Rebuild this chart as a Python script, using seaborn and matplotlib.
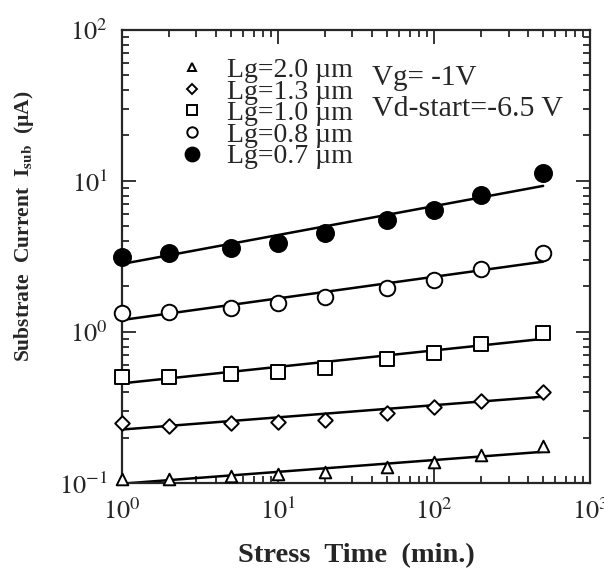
import numpy as np
import pandas as pd
import seaborn as sns
import matplotlib.pyplot as plt
from matplotlib.ticker import FuncFormatter, LogLocator, NullFormatter

# ---------------- data ----------------
time_min = [1, 2, 5, 10, 20, 50, 100, 200, 500]
lg_labels = ["Lg=2.0 µm", "Lg=1.3 µm", "Lg=1.0 µm", "Lg=0.8 µm", "Lg=0.7 µm"]

isub_lg20 = [0.106, 0.107, 0.111, 0.114, 0.118, 0.128, 0.137, 0.153, 0.176]
isub_lg13 = [0.251, 0.240, 0.248, 0.252, 0.261, 0.290, 0.317, 0.349, 0.398]
isub_lg10 = [0.506, 0.505, 0.525, 0.540, 0.580, 0.660, 0.730, 0.830, 0.980]
isub_lg08 = [1.33, 1.36, 1.45, 1.55, 1.71, 1.96, 2.21, 2.60, 3.32]
isub_lg07 = [3.14, 3.33, 3.60, 3.89, 4.53, 5.52, 6.43, 8.07, 11.3]

# fitted lines (end points at t=1 and t=500 min)
fit_time = [1, 500]
fit_lg20 = [0.099, 0.161]
fit_lg13 = [0.226, 0.373]
fit_lg10 = [0.457, 0.900]
fit_lg08 = [1.20, 2.92]
fit_lg07 = [2.82, 9.27]

series = [isub_lg20, isub_lg13, isub_lg10, isub_lg08, isub_lg07]
fits = [fit_lg20, fit_lg13, fit_lg10, fit_lg08, fit_lg07]
markers = ["^", "D", "s", "o", "o"]
msizes = [70, 55, 95, 125, 150]
leg_msizes = [6, 5.5, 7, 7.5, 10]
faces = ["white", "white", "white", "white", "black"]

# ---------------- plotting ----------------
sns.set_style("ticks")
plt.rcParams["font.family"] = ["Liberation Serif", "DejaVu Serif"]
plt.rcParams["mathtext.fontset"] = "stix"

fig = plt.figure(figsize=(6.04, 5.70), dpi=100)
ax = fig.add_axes([0.202, 0.1526, 0.775, 0.795])

handles = []
for lab, vals, fit, mk, ms, lms, fc in zip(lg_labels, series, fits, markers, msizes, leg_msizes, faces):
    fit_df = pd.DataFrame({"t": fit_time, "i": fit})
    sns.lineplot(data=fit_df, x="t", y="i", ax=ax, color="black", lw=1.8)
    df = pd.DataFrame({"t": time_min, "i": vals})
    sns.scatterplot(data=df, x="t", y="i", ax=ax, marker=mk, s=ms,
                    facecolor=fc, edgecolor="black", linewidth=1.4,
                    zorder=3, clip_on=False)
    handles.append(plt.Line2D([], [], ls="none", marker=mk, markersize=lms,
                              markerfacecolor=fc, markeredgecolor="black", markeredgewidth=1.4))

ax.set_xscale("log")
ax.set_yscale("log")
ax.set_xlim(1, 1000)
ax.set_ylim(0.1, 100)

fmt = FuncFormatter(lambda v, p: r"$10^{%d}$" % int(round(np.log10(v))))
ax.xaxis.set_major_formatter(fmt)
ax.yaxis.set_major_formatter(fmt)
ax.xaxis.set_minor_locator(LogLocator(subs=np.arange(2, 10)))
ax.yaxis.set_minor_locator(LogLocator(subs=np.arange(2, 10)))
ax.xaxis.set_minor_formatter(NullFormatter())
ax.yaxis.set_minor_formatter(NullFormatter())

ax.tick_params(which="both", direction="in", top=True, right=True, width=1.3, labelsize=19)
ax.tick_params(which="major", length=10)
ax.tick_params(which="minor", length=5)
ax.tick_params(axis="x", pad=11)
ax.tick_params(axis="y", pad=10)
for sp in ax.spines.values():
    sp.set_linewidth(1.6)

ax.set_xlabel("Stress  Time  (min.)", fontsize=20.5, fontweight="bold")
ax.xaxis.set_label_coords(0.5, -0.133)
ax.set_ylabel(r"Substrate  Current  I$_{\mathbf{sub}}$  (µA)", fontsize=15.5, fontweight="bold")
ax.yaxis.set_label_coords(-0.183, 0.567)

leg = ax.legend(handles, lg_labels, loc="upper left", bbox_to_anchor=(0.108, 0.951),
                frameon=False, fontsize=20, labelspacing=-0.14, handlelength=1.0,
                handletextpad=0.76, borderpad=0.2, borderaxespad=0)

ax.text(0.535, 0.893, "Vg= -1V", transform=ax.transAxes, fontsize=21, va="center")
ax.text(0.535, 0.826, "Vd-start=-6.5 V", transform=ax.transAxes, fontsize=21.5, va="center")

fig.savefig("out.png", dpi=100)
